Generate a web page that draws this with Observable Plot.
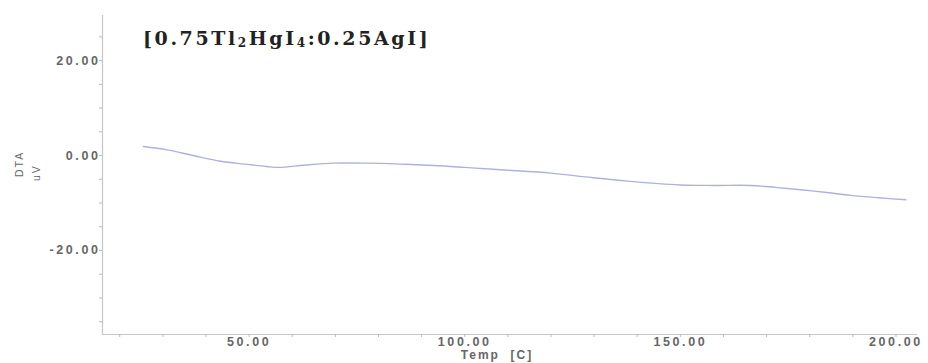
<!DOCTYPE html>
<html>
<head>
<meta charset="utf-8">
<script src="https://cdn.jsdelivr.net/npm/d3@7"></script>
<script src="https://cdn.jsdelivr.net/npm/@observablehq/plot@0.6"></script>
<style>
  html, body { margin: 0; padding: 0; background: #fff; }
  svg { display: block; }
</style>
</head>
<body>
<div id="chart"></div>
<script>
// Temperature (°C) and DTA signal (uV)
const temp = [25.5, 31, 37, 43.4, 49, 54, 57, 63, 69.6, 77, 85, 92.8, 100, 108.3, 120, 128, 137.8, 150, 158, 166.3, 172, 177.9, 184, 189.5, 196, 202.3];
const dta  = [1.9, 1.2, 0.0, -1.2, -1.8, -2.3, -2.5, -2.0, -1.6, -1.6, -1.8, -2.1, -2.5, -3.0, -3.7, -4.5, -5.4, -6.2, -6.3, -6.3, -6.7, -7.2, -7.8, -8.4, -8.9, -9.3];
const yMajor = [-20, 0, 20];
const yMinor = [-35, -30, -25, -15, -10, -5, 5, 10, 15, 25];
const xMajor = [50, 100, 150, 200];
const xMinor = [20, 30, 40, 60, 70, 80, 90, 110, 120, 130, 140, 160, 170, 180, 190];

const data = temp.map((t, i) => ({t, v: dta[i]}));
const fmt = d => d.toFixed(2);

const chart = Plot.plot({
  width: 928,
  height: 363,
  marginLeft: 102,
  marginRight: 11,
  marginTop: 15,
  marginBottom: 29,
  style: {fontFamily: "Liberation Sans, Arial, sans-serif", background: "#fff"},
  x: {domain: [16, 205]},
  y: {domain: [-37.7, 29.5]},
  marks: [
    Plot.ruleX([16], {stroke: "#c9c4cc", strokeWidth: 1.2}),
    Plot.ruleY([-37.7], {stroke: "#c8c8c8", strokeWidth: 1.2}),
    Plot.axisY(yMinor, {tickSize: 3, tickFormat: () => "", stroke: "#bbb", label: null}),
    Plot.axisY(yMajor, {tickSize: 3, tickPadding: -1, tickFormat: fmt, fontSize: 12.5, fill: "#666", fontWeight: "bold", stroke: "#bbb", label: null}),
    Plot.axisX(xMinor, {tickSize: 3, tickFormat: () => "", stroke: "#bbb", label: null}),
    Plot.axisX(xMajor, {tickSize: 3, tickPadding: 0, tickFormat: fmt, fontSize: 12.5, fill: "#666", fontWeight: "bold", stroke: "#bbb", label: null}),
    Plot.line(data, {x: "t", y: "v", stroke: "#aeb1dc", strokeWidth: 1.4, curve: "catmull-rom"}),
    Plot.text(["Temp  [C]"], {frameAnchor: "bottom", dx: -13, dy: 24, fontSize: 12, fill: "#666", fontWeight: "bold"}),
    Plot.text(["DTA"], {frameAnchor: "left", dx: -83, dy: 2, rotate: -90, fontSize: 10.5, fill: "#666"}),
    Plot.text(["uV"], {frameAnchor: "left", dx: -66, dy: 6, rotate: -90, fontSize: 10.5, fill: "#666"})
  ]
});

const svg = d3.select(chart);
svg.selectAll('g[aria-label="y-axis tick label"] text, g[aria-label="x-axis tick label"] text')
  .attr("letter-spacing", 2.6);
svg.selectAll('g[aria-label="text"] text').attr("letter-spacing", 2);

// Title with subscripts
const title = svg.append("text")
  .attr("x", 143).attr("y", 45)
  .attr("text-anchor", "start")
  .attr("font-family", "DejaVu Serif, Liberation Serif, serif")
  .attr("font-weight", "bold")
  .attr("font-size", 19)
  .attr("letter-spacing", 2.6)
  .attr("fill", "#222");
title.append("tspan").text("[0.75Tl");
title.append("tspan").attr("font-size", 12).attr("dy", 2).text("2");
title.append("tspan").attr("dy", -2).text("HgI");
title.append("tspan").attr("font-size", 12).attr("dy", 2).text("4");
title.append("tspan").attr("dy", -2).text(":0.25AgI]");

document.getElementById("chart").appendChild(chart);
</script>
</body>
</html>
